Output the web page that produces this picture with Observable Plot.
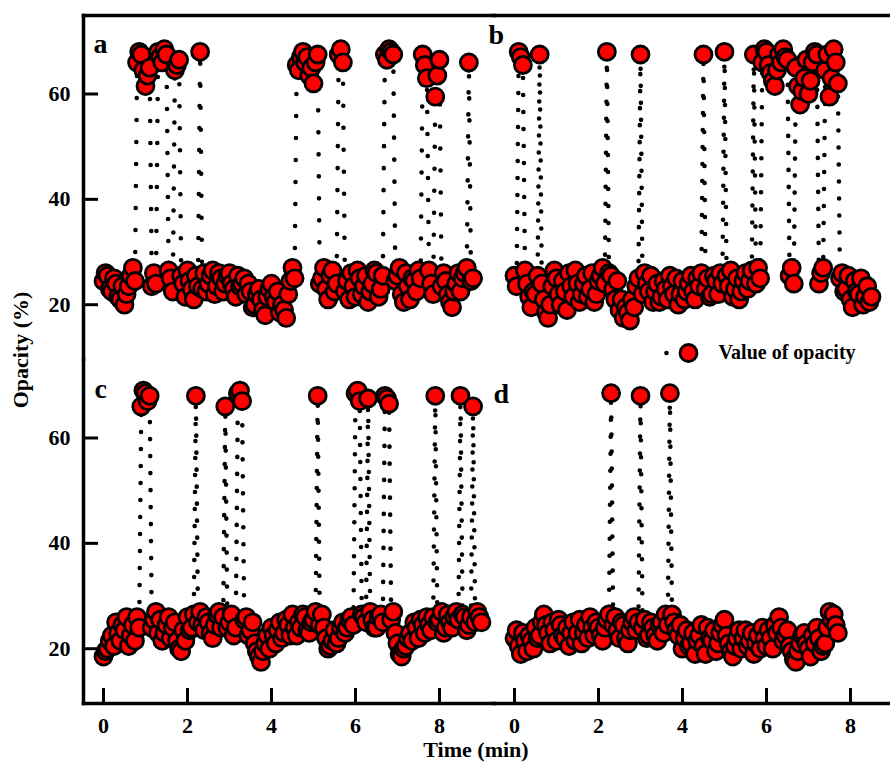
<!DOCTYPE html>
<html>
<head>
<meta charset="utf-8">
<script src="https://cdn.jsdelivr.net/npm/d3@7"></script>
<script src="https://cdn.jsdelivr.net/npm/@observablehq/plot@0.6"></script>
<style>
  html, body { margin: 0; padding: 0; background: #fff; overflow: hidden; }
  #chart svg { display: block; max-width: none !important; }
</style>
</head>
<body>
<div id="chart"></div>
<script>
// Sampling times (min)
const sampleTimes = [
  0.00,0.05,0.10,0.15,0.20,0.25,0.30,0.35,0.40,0.45,
  0.50,0.55,0.60,0.65,0.70,0.75,0.80,0.85,0.90,0.95,
  1.00,1.05,1.10,1.15,1.20,1.25,1.30,1.35,1.40,1.45,
  1.50,1.55,1.60,1.65,1.70,1.75,1.80,1.85,1.90,1.95,
  2.00,2.05,2.10,2.15,2.20,2.25,2.30,2.35,2.40,2.45,
  2.50,2.55,2.60,2.65,2.70,2.75,2.80,2.85,2.90,2.95,
  3.00,3.05,3.10,3.15,3.20,3.25,3.30,3.35,3.40,3.45,
  3.50,3.55,3.60,3.65,3.70,3.75,3.80,3.85,3.90,3.95,
  4.00,4.05,4.10,4.15,4.20,4.25,4.30,4.35,4.40,4.45,
  4.50,4.55,4.60,4.65,4.70,4.75,4.80,4.85,4.90,4.95,
  5.00,5.05,5.10,5.15,5.20,5.25,5.30,5.35,5.40,5.45,
  5.50,5.55,5.60,5.65,5.70,5.75,5.80,5.85,5.90,5.95,
  6.00,6.05,6.10,6.15,6.20,6.25,6.30,6.35,6.40,6.45,
  6.50,6.55,6.60,6.65,6.70,6.75,6.80,6.85,6.90,6.95,
  7.00,7.05,7.10,7.15,7.20,7.25,7.30,7.35,7.40,7.45,
  7.50,7.55,7.60,7.65,7.70,7.75,7.80,7.85,7.90,7.95,
  8.00,8.05,8.10,8.15,8.20,8.25,8.30,8.35,8.40,8.45,
  8.50,8.55,8.60,8.65,8.70,8.75,8.80,8.85,8.90,8.95,
  9.00
];

// Opacity (%) per panel, one value per sampling time
const opacityA = [
  24.5,26,25.5,23,22.5,25,24,21.5,21,23.5,
  20,22,23.5,25.5,27,24.5,66,68,67.5,64.5,
  61.5,63.5,65,23.5,26,24,68,67,66,68.5,
  67.5,26.5,25,22.5,64.5,65.5,66.5,25.5,24,21.5,
  26.5,24.5,23,21,25.5,23.5,68,23,26,22.5,
  24,25.5,26.5,22,23.5,26,25,22.5,24,25.5,
  26,24,23,21.5,25.5,23.5,24,25,22,24,
  22.5,19.5,20,22,23,21,19,18,21.5,23,
  24,21.5,20.5,22.5,18.5,20,19,17.5,22,24.5,
  27,25,65.5,64.5,67,68,66,67,63.5,65,
  62,66,67.5,24,25,27,23,21,25.5,26.5,
  22.5,24,67.5,68.5,66,22.5,24.5,21,26,23.5,
  21.5,26.5,25,22,23.5,25.5,20.5,22.5,24,26.5,
  26,21.5,23,25.5,67.5,66.5,68.5,68,67.5,24.5,
  25.5,27,22,20.5,26,23.5,21,25,24.5,22.5,
  26.5,25,67.5,65.5,63,26.5,24,22,59.5,63.5,
  66.5,23.5,26,24.5,22,20.5,19.5,22.5,24,26,
  22.5,25,26,27,66,24.5,25
];
const opacityB = [
  25.5,23.5,68,67,65.5,26.5,24,21.5,19.5,22.5,
  22,25.5,67.5,24,21,18.5,17.5,20,23.5,26.5,
  25,22,20,24.5,22.5,19,26,23.5,21.5,26.5,
  24,20.5,22,24,25.5,21.5,23,26,20.5,22,
  24.5,25.5,27,24,68,26,25.5,23,21,24.5,
  19,21,17.5,19.5,18.5,17,21,19.5,23.5,25,
  67.5,22,26,24,22.5,25.5,20.5,22.5,24,20.5,
  21.5,24.5,23,21,25.5,23.5,22,25,20,22,
  24.5,21,22.5,24,25.5,22.5,21,25,23.5,26,
  67.5,23,25,21.5,22,25.5,24.5,22,26,24,
  68,25.5,23.5,26.5,21.5,23,25,21,22.5,24.5,
  26,23,24.5,26.5,67.5,24,27,25,66,68.5,
  68,65.5,64,62.5,61.5,64.5,67.5,66,68.5,67,
  66.5,25.5,27,24,65,61.5,58,60.5,63,66.5,
  60,62.5,66,68,67.5,24,26,27,64.5,67.5,
  59.5,63,68.5,66,62,25,26,22.5,23,25.5,
  21,19.5,24.5,22.5,22,25,20,21.5,23.5,20.5,
  21.5
];
const opacityC = [
  18.5,19.5,20,21.5,22.5,20.5,25,23,21.5,24.5,
  23.5,26,20.5,22.5,24.5,21.5,26,24,66,69,
  68.5,67,68,24,25.5,27,23,25.5,21.5,23,
  24.5,26,22,24,25,21.5,20,19.5,23.5,21.5,
  26,23.5,24,26.5,68,25,27,24.5,23.5,26,
  25,23,22,24.5,26.5,27,24,26,66,24,
  25,26.5,22.5,24,68.5,69,67,25.5,26,22.5,
  23.5,25,21,19.5,18.5,17.5,19.5,21,22.5,20,
  24,22.5,21,23.5,25,22,23,25.5,24.5,22.5,
  26.5,24,22.5,25,24,26.5,26,23.5,23,25,
  25.5,27,68,24.5,26.5,24,22,20,20.5,21.5,
  23.5,21,22,24,25,23,24,25.5,26,24.5,
  68.5,69,67,26.5,26,25,67.5,27,25.5,24,
  24,26,26.5,25,68,67.5,66.5,25.5,27,23,
  21,19,18.5,20,20.5,22,23,21.5,25,24,
  22,25.5,24.5,23,26,24.5,23.5,26,68,25,
  25.5,27,23,24,26.5,25,24,26,27,25.5,
  68,26.5,26,23.5,24.5,26,66,25,27,26,
  25
];
const opacityD = [
  22,23.5,20.5,19,23,21.5,19.5,22.5,21.5,20,
  24,22,22.5,25,26.5,24.5,23,21,25,23.5,
  21.5,25.5,24.5,22.5,22,24,20.5,23,25,21.5,
  23,25.5,21,23,24.5,22,26,24,22.5,25,
  24,22.5,21.5,24,25.5,26.5,68.5,24.5,26,23.5,
  22,25,24.5,22,21,23.5,25,26,23.5,25,
  68,24,25.5,22,22.5,25,24,22.5,21.5,24.5,
  25,23,26.5,24.5,68.5,26.5,25,23.5,22.5,24.5,
  20,22,23.5,20.5,21,23,19,21.5,22.5,24.5,
  20.5,19,24,22,21.5,23.5,19.5,21,23,24.5,
  25.5,22.5,21,19.5,18.5,20.5,22,23.5,20,22,
  23.5,20.5,21.5,23,19,21,22.5,20,24,22,
  20.5,23.5,22,20,24.5,23,26,24,21.5,22.5,
  23.5,20.5,19.5,18,17.5,19.5,21,22.5,23,21,
  20,18.5,22.5,21,24,22,19.5,20.5,21,24,
  27,25.5,26.5,24.5,23
];

const panelNames = ["a", "b", "c", "d"];
const panelColumns = ["left", "right", "left", "right"];
const panelRows = ["top", "top", "bottom", "bottom"];
const xTicks = [0, 2, 4, 6, 8];
const yTicks = [20, 40, 60];
const xTitle = "Time (min)";
const yTitle = "Opacity (%)";
const legendLabel = "Value of opacity";

const seriesByPanel = [opacityA, opacityB, opacityC, opacityD];
const records = seriesByPanel.flatMap((vals, p) =>
  vals.map((v, i) => ({
    panel: panelNames[p], col: panelColumns[p], row: panelRows[p],
    time: sampleTimes[i], opacity: v
  }))
);
const panelLabelRows = panelNames.map((name, i) => ({name, col: panelColumns[i], row: panelRows[i]}));
const legendRows = [{label: legendLabel, col: "right", row: "top"}];

const serif = "'Liberation Serif', 'Times New Roman', Times, serif";
const labelOffsets = {a: [10, 18], b: [-6, 9], c: [11, 18.5], d: [-1, 23.5]};
const red = "#ff0000";

const chart = Plot.plot({
  width: 905,
  height: 767,
  marginTop: 14,
  marginRight: 0,
  marginBottom: 64,
  marginLeft: 83,
  style: {fontFamily: serif, background: "white", color: "black"},
  fx: {domain: ["left", "right"], axis: null, padding: 0},
  fy: {domain: ["top", "bottom"], axis: null, padding: 0},
  x: {domain: [-0.476, 9.31], label: null},
  y: {domain: [9.6, 74.9], label: null},
  marks: [
    Plot.line(records.filter(d => d.panel === "a"), {
      x: "time", y: "opacity", fx: "col", fy: "row",
      stroke: "black", strokeWidth: 4.6, strokeLinecap: "round", strokeDasharray: "0 22"
    }),
    Plot.line(records.filter(d => d.panel !== "a"), {
      x: "time", y: "opacity", fx: "col", fy: "row", z: "panel",
      stroke: "black", strokeWidth: 4.6, strokeLinecap: "round", strokeDasharray: "0 17"
    }),
    Plot.dot(records, {
      x: "time", y: "opacity", fx: "col", fy: "row",
      r: 8.5, fill: red, stroke: "black", strokeWidth: 2.8
    }),
    Plot.frame({anchor: "top", facetAnchor: "top", strokeWidth: 3.5}),
    Plot.frame({anchor: "left", facetAnchor: "left", strokeWidth: 3.5}),
    Plot.frame({anchor: "bottom", facetAnchor: "bottom", strokeWidth: 3.5}),
    Plot.axisX(xTicks, {
      anchor: "bottom", tickSize: -15, tickPadding: 29, strokeWidth: 3,
      fontSize: 22, fontWeight: "bold", fontFamily: serif, label: null
    }),
    Plot.axisY(yTicks, {
      anchor: "left", tickSize: -15, tickPadding: 28, strokeWidth: 3,
      fontSize: 22, fontWeight: "bold", fontFamily: serif, label: null
    }),
    ...panelLabelRows.map(d => Plot.text([d], {
      fx: "col", fy: "row", text: "name",
      frameAnchor: "top-left", textAnchor: "start", lineAnchor: "top",
      dx: labelOffsets[d.name][0], dy: labelOffsets[d.name][1],
      fontSize: 28, fontWeight: "bold", fontFamily: serif
    })),
    Plot.dot(legendRows, {fx: "col", fy: "row", frameAnchor: "bottom-left", dx: 172, dy: -6.5, r: 2.3, fill: "black"}),
    Plot.dot(legendRows, {fx: "col", fy: "row", frameAnchor: "bottom-left", dx: 194, dy: -6.5, r: 8.5, fill: red, stroke: "black", strokeWidth: 2.8}),
    Plot.text(legendRows, {
      fx: "col", fy: "row", text: "label", frameAnchor: "bottom-left",
      dx: 224, dy: -6.5, textAnchor: "start", lineAnchor: "middle",
      fontSize: 20, fontWeight: "bold", fontFamily: serif
    }),
    Plot.text([yTitle], {
      facet: "super", frameAnchor: "left", rotate: -90, dx: -63, dy: -9.5,
      textAnchor: "middle", lineAnchor: "middle",
      fontSize: 22, fontWeight: "bold", fontFamily: serif
    }),
    Plot.text([xTitle], {
      facet: "super", frameAnchor: "bottom", dx: -18.5, dy: 37.4,
      textAnchor: "middle", lineAnchor: "top",
      fontSize: 22, fontWeight: "bold", fontFamily: serif
    })
  ]
});
document.getElementById("chart").append(chart);
</script>
</body>
</html>
